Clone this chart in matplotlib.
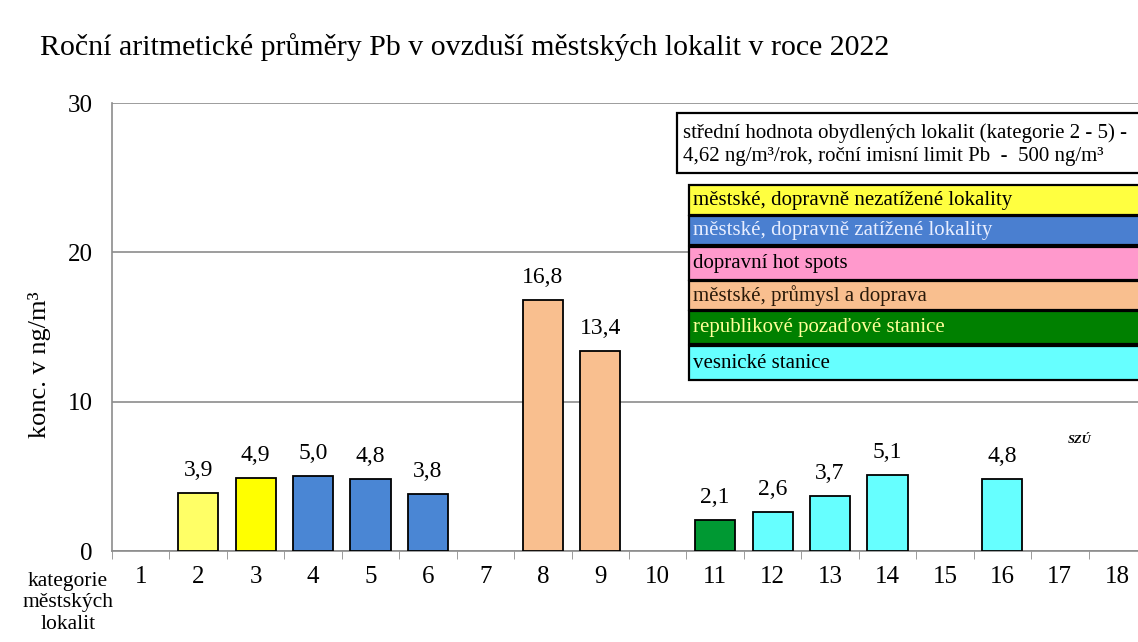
import matplotlib
matplotlib.use("Agg")
import matplotlib.pyplot as plt
from matplotlib.patches import Rectangle

plt.rcParams['font.family'] = ['Liberation Serif', 'DejaVu Serif']

# kategorie lokalit 1..18 a roční průměry Pb (ng/m3), None = bez měření
categories = list(range(1, 19))
values = [None, 3.9, 4.9, 5.0, 4.8, 3.8, None, 16.8, 13.4, None,
          2.1, 2.6, 3.7, 5.1, None, 4.8, None, None]
bar_colors = [None, '#FFFF66', '#FFFF00', '#4A86D4', '#4A86D4', '#4A86D4', None,
              '#F9BF8F', '#F9BF8F', None, '#009933', '#66FFFF', '#66FFFF',
              '#66FFFF', None, '#66FFFF', None, None]

legend_labels = ['městské, dopravně nezatížené lokality',
                 'městské, dopravně zatížené lokality',
                 'dopravní hot spots',
                 'městské, průmysl a doprava',
                 'republikové pozaďové stanice',
                 'vesnické stanice']
legend_colors = ['#FFFF40', '#4A7FD0', '#FF99CC', '#F9BF8F', '#008000', '#66FFFF']
legend_text_colors = ['black', '#E8EEFF', 'black', '#2A1A0A', '#FFFF99', 'black']

W, H = 1138, 642
fig = plt.figure(figsize=(W / 100, H / 100), dpi=100)
ax = fig.add_axes([112 / W, 1 - 551 / H, (1146 - 112) / W, (551 - 103) / H])

xs = [c for c, v in zip(categories, values) if v is not None]
ys = [v for v in values if v is not None]
cs = [col for col, v in zip(bar_colors, values) if v is not None]
ax.bar(xs, ys, width=0.7, color=cs, edgecolor='black', linewidth=1.3, zorder=3)
for x, y in zip(xs, ys):
    ax.text(x, y + 0.8, f'{y:.1f}'.replace('.', ','), ha='center', va='bottom',
            fontsize=17, zorder=4)

ax.set_xlim(0.5, 18.5)
ax.set_ylim(0, 30)
ax.set_yticks([0, 10, 20, 30])
ax.set_yticklabels(['0', '10', '20', '30'], fontsize=18)
ax.yaxis.grid(True, color='#8C8C8C', linewidth=1.2, zorder=0)
ax.set_xticks(categories)
ax.set_xticklabels([str(c) for c in categories], fontsize=18)
ax.set_xticks([c - 0.5 for c in categories], minor=True)
ax.tick_params(axis='x', which='major', length=0, pad=11)
ax.tick_params(axis='x', which='minor', length=6, color='#8C8C8C', direction='out')
ax.tick_params(axis='y', length=0, pad=14)
for side in ['top', 'right']:
    ax.spines[side].set_visible(False)
for side in ['left', 'bottom']:
    ax.spines[side].set_color('#8C8C8C')
    ax.spines[side].set_linewidth(1.2)

fig.text(40 / W, 1 - 365 / H, 'konc. v ng/m³', fontsize=19, rotation=90,
         ha='center', va='center')

fig.text(40 / W, 1 - 47 / H, 'Roční aritmetické průměry Pb v ovzduší městských lokalit v roce 2022',
         fontsize=21.5, va='center', ha='left')
fig.text(68 / W, 1 - 603 / H, 'kategorie\nměstských\nlokalit', fontsize=15.5,
         ha='center', va='center', linespacing=1.2)


def px_rect(x0, y0, x1, y1, fc):
    r = Rectangle((x0 / W, 1 - y1 / H), (x1 - x0) / W, (y1 - y0) / H,
                  transform=fig.transFigure, facecolor=fc, edgecolor='black',
                  linewidth=1.6, zorder=5)
    fig.add_artist(r)


# informační rámeček
px_rect(677, 113, 1150, 173, 'white')
fig.text(683 / W, 1 - 133 / H, 'střední hodnota obydlených lokalit (kategorie 2 - 5) -',
         fontsize=15, va='center', zorder=6)
fig.text(683 / W, 1 - 157 / H, '4,62 ng/m³/rok, roční imisní limit Pb  -  500 ng/m³',
         fontsize=15, va='center', zorder=6)

# barevná legenda kategorií
box_tops = [185, 216, 247, 281, 311, 346]
box_bottoms = [215, 245, 280, 310, 344, 380]
for lab, col, tcol, t, b in zip(legend_labels, legend_colors, legend_text_colors,
                                 box_tops, box_bottoms):
    px_rect(689, t, 1150, b, col)
    fig.text(693 / W, 1 - (t + b) / 2 / H, lab, fontsize=15, va='center',
             color=tcol, zorder=6)

fig.text(1080 / W, 1 - 440 / H, 'SZÚ', fontsize=9, fontweight='bold',
         fontstyle='italic', ha='center', va='center')

fig.savefig('out.png', dpi=100)
